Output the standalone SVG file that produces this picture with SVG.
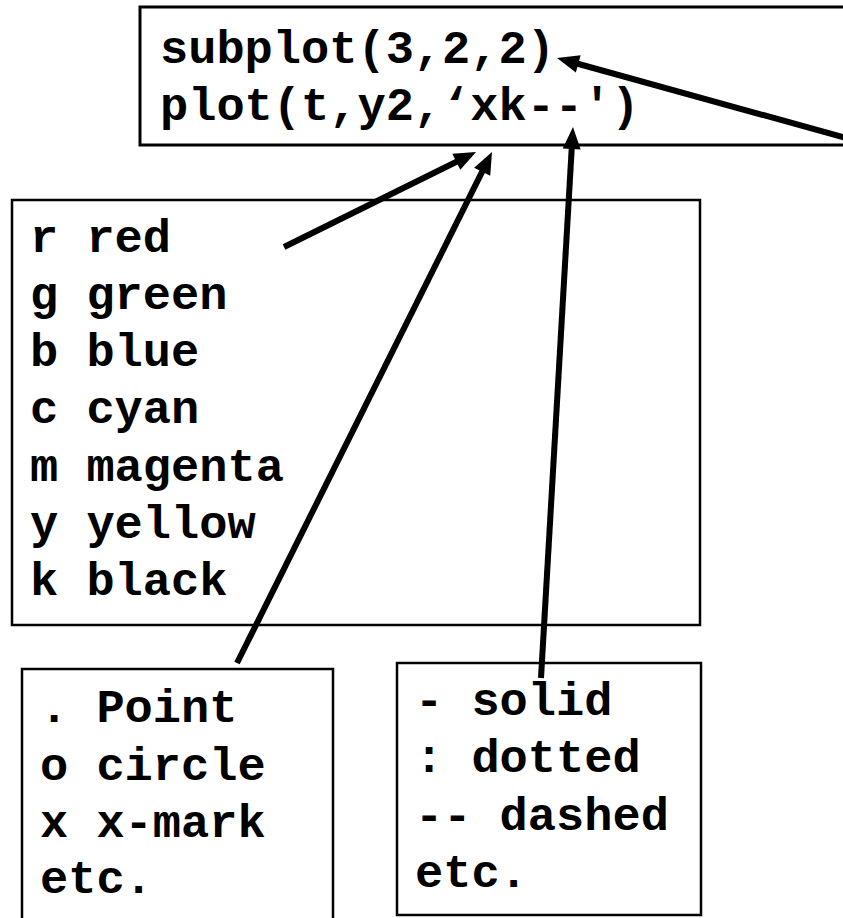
<svg xmlns="http://www.w3.org/2000/svg" width="843" height="918" viewBox="0 0 843 918">
  <style>
    .box { fill: #ffffff; stroke: #000000; stroke-width: 2.5; }
    .t { font-family: "Liberation Mono", "Courier New", monospace; font-weight: bold; font-size: 47px; fill: #000000; }
    .conn { stroke: #000000; stroke-width: 6; fill: none; marker-end: url(#arrow); }
  </style>
  <defs>
    <marker id="arrow" markerUnits="userSpaceOnUse" markerWidth="24" markerHeight="20" refX="7" refY="9" orient="auto" overflow="visible">
      <path d="M0,0 L22,9 L0,18 z" fill="#000000"/>
    </marker>
  </defs>
  <rect width="843" height="918" fill="#ffffff"/>

  <g id="node-code">
    <rect class="box" x="140" y="7" width="730" height="138" style="stroke-width:3"/>
    <text class="t" x="160" y="63">subplot(3,2,2)</text>
    <text class="t" x="160" y="120">plot(t,y2,‘xk--')</text>
  </g>

  <g id="node-colors">
    <rect class="box" x="12" y="200" width="688" height="425"/>
    <text class="t" x="30" y="252">r red</text>
    <text class="t" x="30" y="309">g green</text>
    <text class="t" x="30" y="366">b blue</text>
    <text class="t" x="30" y="423">c cyan</text>
    <text class="t" x="30" y="481">m magenta</text>
    <text class="t" x="30" y="538">y yellow</text>
    <text class="t" x="30" y="595">k black</text>
  </g>

  <g id="node-markers">
    <rect class="box" x="22" y="669" width="311" height="260"/>
    <text class="t" x="40" y="722">. Point</text>
    <text class="t" x="40" y="780">o circle</text>
    <text class="t" x="40" y="837">x x-mark</text>
    <text class="t" x="40" y="893">etc.</text>
  </g>

  <g id="node-lines">
    <rect class="box" x="397" y="663" width="304" height="252"/>
    <text class="t" x="415" y="715">- solid</text>
    <text class="t" x="415" y="772">: dotted</text>
    <text class="t" x="415" y="830">-- dashed</text>
    <text class="t" x="415" y="887">etc.</text>
  </g>

  <g id="connectors">
    <line class="conn" x1="284" y1="247" x2="462.6" y2="158.7"/>
    <line class="conn" x1="237" y1="663" x2="485.3" y2="165.4"/>
    <line class="conn" x1="541" y1="678" x2="572.1" y2="142"/>
    <line class="conn" x1="875" y1="146" x2="571.5" y2="62"/>
  </g>
</svg>
